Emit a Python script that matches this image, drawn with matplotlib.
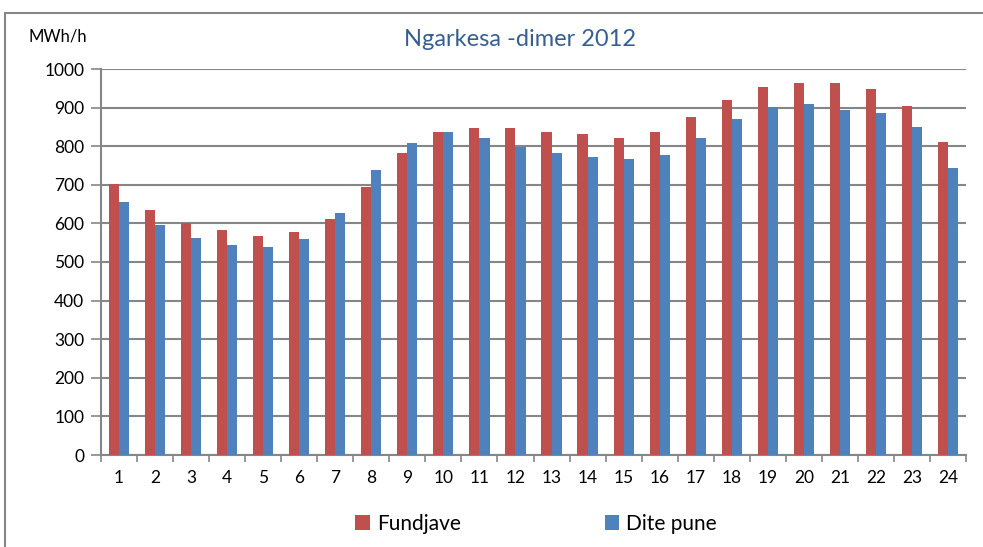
import matplotlib.pyplot as plt
import numpy as np
from matplotlib.patches import Rectangle

# hourly load, December 2012 (MWh/h)
hours = list(range(1, 25))
weekend = [702, 636, 602, 583, 568, 578, 612, 695, 782, 837, 846, 846,
           837, 832, 822, 837, 876, 920, 953, 963, 963, 948, 905, 812]
workday = [655, 597, 563, 544, 539, 559, 627, 739, 807, 837, 822, 797,
           782, 773, 768, 777, 822, 870, 901, 910, 895, 886, 851, 744]
series_names = ['Fundjave', 'Dite pune']

plt.rcParams['font.family'] = ['Lato', 'DejaVu Sans']

fig = plt.figure(figsize=(9.83, 5.47), dpi=100)
ax = fig.add_axes([101 / 983, 92 / 547, 865 / 983, 386 / 547])

# outer chart frame
fig.patches.append(Rectangle((5 / 983, -0.2), 1.2, 1.2 - 13 / 547,
                             transform=fig.transFigure, fill=False,
                             edgecolor='#868686', linewidth=1.5))

x = np.arange(len(hours))
w = 0.28
ax.bar(x - w / 2, weekend, width=w, color='#C0504D', label=series_names[0], zorder=3)
ax.bar(x + w / 2, workday, width=w, color='#4F81BD', label=series_names[1], zorder=3)

ax.set_xlim(-0.5, len(hours) - 0.5)
ax.set_ylim(0, 1000)
ax.set_yticks(range(0, 1001, 100))
ax.set_xticks(x)
ax.set_xticklabels([str(h) for h in hours], fontsize=12.5)
ax.set_xticks(np.arange(-0.5, len(hours), 1), minor=True)
ax.tick_params(axis='x', which='major', length=0, pad=11)
ax.tick_params(axis='x', which='minor', length=5, color='#868686', width=1.2)
ax.tick_params(axis='y', length=7, color='#868686', width=1.2, labelsize=12.5, pad=5)

ax.yaxis.grid(True, color='#868686', linewidth=1.5, zorder=0)
ax.set_axisbelow(True)
for s in ['top', 'right']:
    ax.spines[s].set_visible(False)
ax.spines['left'].set_color('#868686')
ax.spines['left'].set_linewidth(1.5)
ax.spines['bottom'].set_color('#868686')
ax.spines['bottom'].set_linewidth(1.5)

fig.text(520 / 983, 1 - 40 / 547, 'Ngarkesa -dimer 2012', ha='center', va='center',
         fontsize=17, color='#365F91')
fig.text(28 / 983, 1 - 37 / 547, 'MWh/h', ha='left', va='center', fontsize=12)

fig.legend(loc='center', bbox_to_anchor=(536 / 983, 1 - 524 / 547), ncol=2,
           frameon=False, fontsize=15, handlelength=0.7, handleheight=0.7,
           handletextpad=0.35, columnspacing=6.9)

fig.savefig('out.png', dpi=100)
